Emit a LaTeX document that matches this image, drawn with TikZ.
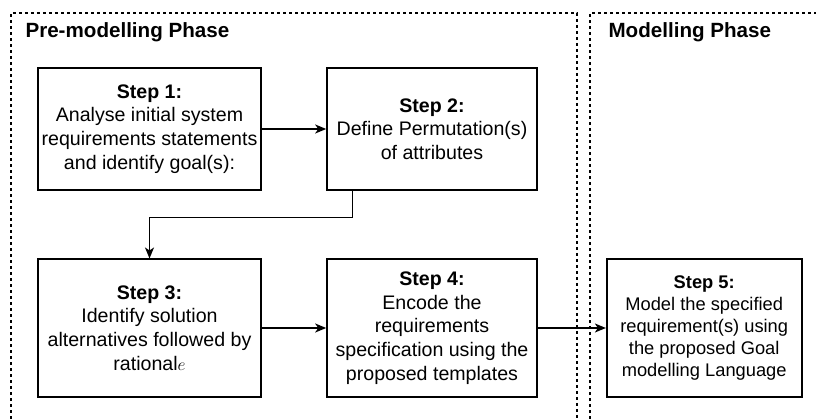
\documentclass[tikz,border=0pt]{standalone}
\usepackage{fontspec}
\setmainfont{Liberation Sans}
\usetikzlibrary{arrows.meta,calc}
\tikzset{
  stepbox/.style={draw=black, line width=1.6pt, rectangle, inner sep=0pt,
    align=center, font=\fontsize{19.6}{23.7}\selectfont},
  phase/.style={draw=black, line width=1.2pt, dash pattern=on 3.2pt off 2.8pt},
  phasetitle/.style={anchor=base west, font=\fontsize{20.6}{24}\selectfont\bfseries},
  flow/.style={line width=1.4pt, -{Stealth[length=11pt,width=9pt,inset=3pt]}}
}
\begin{document}
\begin{tikzpicture}[x=1pt,y=-1pt]
\useasboundingbox (0,0) rectangle (816,419);
% phase frames (open towards the page edges)
\draw[phase] (11,419) -- (11,13) -- (577,13) -- (577,419);
\draw[phase] (590,419) -- (590,13) -- (816,13);
\node[phasetitle] (pre) at (22,38) {Pre-modelling Phase};
\node[phasetitle] (mod) at (605,38) {Modelling Phase};
% steps
\node[stepbox, minimum width=223pt, minimum height=122pt] (s1) at (149.5,129)
  {\textbf{Step 1:}\\Analyse initial system\\requirements statements\\and identify goal(s):};
\node[stepbox, minimum width=210pt, minimum height=122pt] (s2) at (432,129)
  {\textbf{Step 2:}\\Define Permutation(s)\\of attributes};
\node[stepbox, minimum width=223pt, minimum height=137.4pt] (s3) at (149.5,328)
  {\textbf{Step 3:}\\Identify solution\\alternatives followed by\\rational{\fontsize{16}{20}\selectfont$e$}};
\node[stepbox, minimum width=210pt, minimum height=137.4pt] (s4) at (432,328)
  {\textbf{Step 4:}\\Encode the\\requirements\\specification using the\\proposed templates};
\node[stepbox, minimum width=195pt, minimum height=137.4pt,
  font=\fontsize{18.3}{22}\selectfont] (s5) at (704.2,328)
  {\textbf{Step 5:}\\Model the specified\\requirement(s) using\\the proposed Goal\\modelling Language};
% connectors
\draw[flow] (s1.east) -- (s2.west);
\draw[flow] ($(s2.south west)+(26,0)$) |- ($(s3.north)+(0,-41)$) -- (s3.north);
\draw[flow] (s3.east) -- (s4.west);
\draw[flow] (s4.east) -- (s5.west);
\end{tikzpicture}
\end{document}
